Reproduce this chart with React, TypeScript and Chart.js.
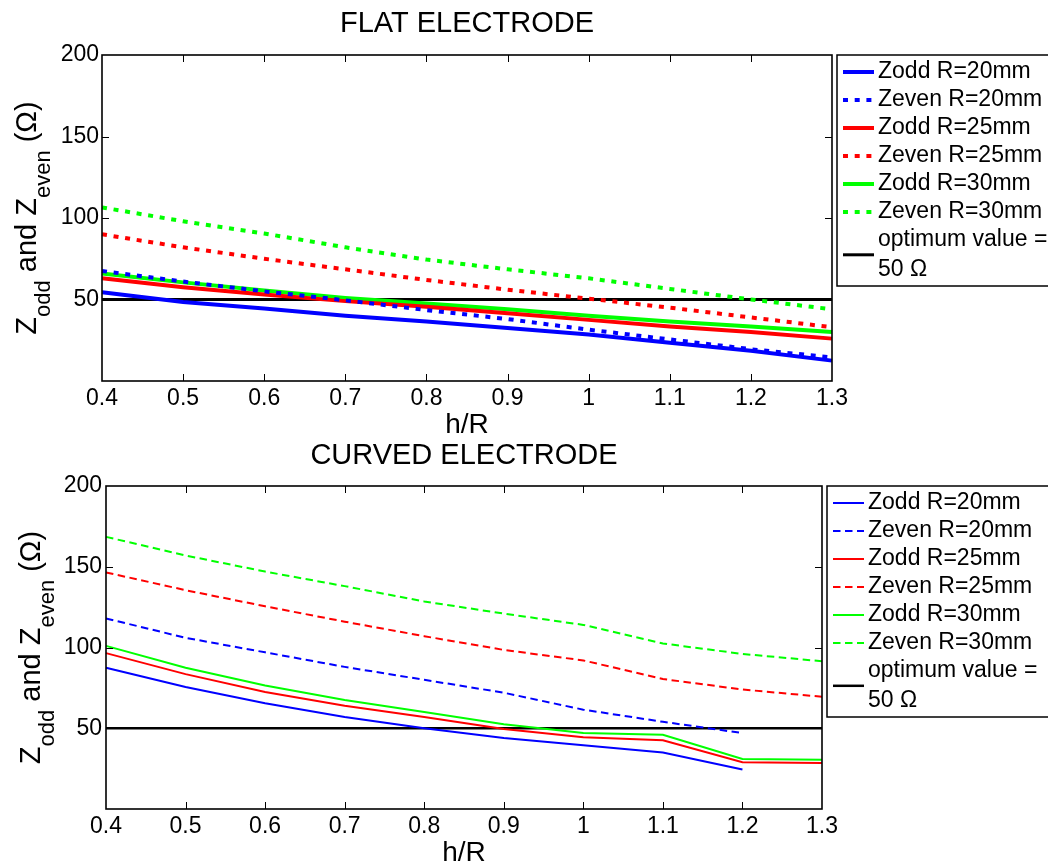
import React, { useEffect, useRef } from "react";
import { Chart, registerables } from "chart.js";

Chart.register(...registerables);

// ---------- data ----------
const hR = ["0.4", "0.5", "0.6", "0.7", "0.8", "0.9", "1", "1.1", "1.2", "1.3"];
const yTickStep = 50;
const yMin = 0;
const yMax = 200;
const optimumValue = 50;

// FLAT ELECTRODE
const flatZodd20 = [54.5, 48.5, 44.5, 40, 36.5, 32.5, 28.5, 23.5, 18.5, 12.5];
const flatZeven20 = [67.5, 61, 55, 49.5, 43.5, 38, 31.5, 25.5, 19.5, 14.5];
const flatZodd25 = [63, 57.5, 53, 49, 45.5, 41.5, 37.5, 33.5, 30, 26];
const flatZeven25 = [90, 82, 75, 68.5, 62, 56, 50.5, 45, 39, 33];
const flatZodd30 = [66, 60.5, 55.5, 51, 47.5, 44, 40, 36.5, 33.5, 30];
const flatZeven30 = [106.5, 98, 90.5, 82, 74.5, 68.5, 63, 56.5, 50, 44];

// CURVED ELECTRODE
const curvedZodd20 = [87.5, 75.5, 65.5, 57, 50, 44, 39.5, 35, 24.5, null];
const curvedZeven20 = [118, 106, 97, 88, 80, 72, 61.5, 54, 47, null];
const curvedZodd25 = [96.5, 83.5, 72.5, 64, 57, 49.5, 44.5, 42.5, 29, 28.5];
const curvedZeven25 = [146.5, 135.5, 125.5, 116, 107, 98.5, 92, 80.5, 74, 69.5];
const curvedZodd30 = [101, 87.5, 76.5, 67.5, 60, 52.5, 47, 46, 31, 30.5];
const curvedZeven30 = [168.5, 157, 147, 138, 128.5, 121, 114, 102.5, 96, 91.5];

const optimumLine = hR.map(() => optimumValue);

const seriesLabels = [
  "Zodd R=20mm",
  "Zeven R=20mm",
  "Zodd R=25mm",
  "Zeven R=25mm",
  "Zodd R=30mm",
  "Zeven R=30mm",
  "optimum value =\n50 Ω",
];
const seriesColors = ["#0000ff", "#0000ff", "#ff0000", "#ff0000", "#00ff00", "#00ff00", "#000000"];
const seriesDashed = [false, true, false, true, false, true, false];

const FONT = '"Liberation Sans", Arial, Helvetica, sans-serif';

// ---------- decoration plugin (box, inward ticks, titles, legend) ----------
const decorPlugin = {
  id: "matlabDecor",
  afterDraw(chart: any, _args: any, opts: any) {
    const ctx = chart.ctx as CanvasRenderingContext2D;
    const ca = chart.chartArea;
    const xs = chart.scales.x;
    const ys = chart.scales.y;
    ctx.save();

    // inward ticks
    ctx.strokeStyle = "#000";
    ctx.lineWidth = 1;
    const tl = 7;
    ctx.beginPath();
    xs.ticks.forEach((_t: any, i: number) => {
      if (i === 0 || i === xs.ticks.length - 1) return;
      const px = Math.round(xs.getPixelForTick(i)) + 0.5;
      ctx.moveTo(px, ca.bottom);
      ctx.lineTo(px, ca.bottom - tl);
      ctx.moveTo(px, ca.top);
      ctx.lineTo(px, ca.top + tl);
    });
    ys.ticks.forEach((t: any) => {
      if (t.value <= yMin || t.value >= yMax) return;
      const py = Math.round(ys.getPixelForValue(t.value)) + 0.5;
      ctx.moveTo(ca.left, py);
      ctx.lineTo(ca.left + tl, py);
      ctx.moveTo(ca.right, py);
      ctx.lineTo(ca.right - tl, py);
    });
    ctx.stroke();

    // axes box
    ctx.lineWidth = 1.6;
    ctx.strokeRect(ca.left, ca.top, ca.right - ca.left, ca.bottom - ca.top);

    // title
    ctx.fillStyle = "#000";
    ctx.textAlign = "center";
    ctx.textBaseline = "middle";
    ctx.font = `29px ${FONT}`;
    const cx = (ca.left + ca.right) / 2;
    ctx.fillText(opts.title, cx, opts.titleY);

    // x label
    ctx.textBaseline = "alphabetic";
    ctx.font = `28px ${FONT}`;
    ctx.fillText("h/R", cx, ca.bottom + 52);

    // y label with subscripts
    const main = 29;
    const sub = 22;
    const parts: [string, boolean][] = [
      ["Z", false],
      ["odd", true],
      [" and Z", false],
      ["even", true],
      [" (Ω)", false],
    ];
    let total = 0;
    parts.forEach(([s, isSub]) => {
      ctx.font = `${isSub ? sub : main}px ${FONT}`;
      total += ctx.measureText(s).width;
    });
    ctx.save();
    ctx.translate(ca.left - 66, (ca.top + ca.bottom) / 2);
    ctx.rotate(-Math.PI / 2);
    ctx.textAlign = "left";
    ctx.textBaseline = "alphabetic";
    let px = -total / 2;
    parts.forEach(([s, isSub]) => {
      ctx.font = `${isSub ? sub : main}px ${FONT}`;
      ctx.fillText(s, px, isSub ? 14 : 0);
      px += ctx.measureText(s).width;
    });
    ctx.restore();

    // legend
    const left = ca.right + 5;
    const top = ca.top;
    ctx.lineWidth = 1.5;
    ctx.strokeStyle = "#000";
    ctx.strokeRect(left, top, chart.width - left + 20, 231);
    ctx.font = `23px ${FONT}`;
    ctx.textAlign = "left";
    ctx.textBaseline = "middle";
    chart.data.datasets.forEach((ds: any, i: number) => {
      const lines = String(ds.label).split("\n");
      const rowY = top + 17 + i * 28;
      const lineY = lines.length > 1 ? rowY + 14.8 : rowY;
      ctx.save();
      ctx.strokeStyle = ds.borderColor;
      ctx.lineWidth = ds.borderWidth;
      ctx.setLineDash(ds.borderDash || []);
      ctx.lineCap = "butt";
      ctx.beginPath();
      ctx.moveTo(left + 6, lineY);
      ctx.lineTo(left + 37, lineY);
      ctx.stroke();
      ctx.restore();
      ctx.fillStyle = "#000";
      lines.forEach((ln, j) => {
        ctx.fillText(ln, left + 41, rowY + j * 29.5);
      });
    });

    ctx.restore();
  },
};

type PanelProps = {
  title: string;
  series: (number | null)[][];
  lineWidth: number;
  optimumWidth: number;
  dash: number[];
  canvasHeight: number;
  top: number;
  padTop: number;
  padRight: number;
  yWidth: number;
  xHeight: number;
  yPad: number;
  titleY: number;
};

function Panel(p: PanelProps) {
  const ref = useRef<HTMLCanvasElement | null>(null);
  useEffect(() => {
    if (!ref.current) return;
    const datasets = seriesLabels.map((label, i) => ({
      label,
      data: i < 6 ? p.series[i] : optimumLine,
      borderColor: seriesColors[i],
      backgroundColor: seriesColors[i],
      borderWidth: i < 6 ? p.lineWidth : p.optimumWidth,
      borderDash: seriesDashed[i] ? p.dash : [],
      borderCapStyle: "butt" as const,
      pointRadius: 0,
      tension: 0,
      spanGaps: false,
      fill: false,
    }));
    const chart = new Chart(ref.current, {
      type: "line",
      data: { labels: hR, datasets },
      options: {
        animation: false,
        responsive: false,
        layout: { padding: { top: p.padTop, right: p.padRight, left: 0, bottom: 0 } },
        plugins: {
          legend: { display: false },
          title: { display: false },
          tooltip: { enabled: false },
          matlabDecor: { title: p.title, titleY: p.titleY },
        } as any,
        scales: {
          x: {
            type: "category",
            offset: false,
            grid: { display: false, drawTicks: false },
            border: { display: false },
            ticks: {
              color: "#000",
              font: { family: FONT, size: 23 },
              padding: 4,
              maxRotation: 0,
              autoSkip: false,
            },
            afterFit: (s: any) => {
              s.height = p.xHeight;
            },
          },
          y: {
            min: yMin,
            max: yMax,
            grid: { display: false, drawTicks: false },
            border: { display: false },
            ticks: {
              stepSize: yTickStep,
              color: "#000",
              font: { family: FONT, size: 23 },
              padding: p.yPad,
              callback: (v: any) => (Number(v) === yMin ? "" : String(v)),
            },
            afterFit: (s: any) => {
              s.width = p.yWidth;
            },
          },
        },
      },
      plugins: [decorPlugin],
    });
    return () => chart.destroy();
  }, []);
  return (
    <canvas
      ref={ref}
      width={1048}
      height={p.canvasHeight}
      style={{ position: "absolute", left: 0, top: p.top, width: 1048, height: p.canvasHeight }}
    />
  );
}

export default function App() {
  return (
    <div
      style={{
        position: "absolute",
        left: 0,
        top: 0,
        width: 1048,
        height: 865,
        background: "#fff",
        overflow: "hidden",
      }}
    >
      <Panel
        title="FLAT ELECTRODE"
        series={[flatZodd20, flatZeven20, flatZodd25, flatZeven25, flatZodd30, flatZeven30]}
        lineWidth={4}
        optimumWidth={3}
        dash={[5, 6.7]}
        canvasHeight={438}
        top={0}
        padTop={55}
        padRight={216}
        yWidth={102}
        xHeight={57}
        yPad={3}
        titleY={23.5}
      />
      <Panel
        title="CURVED ELECTRODE"
        series={[curvedZodd20, curvedZeven20, curvedZodd25, curvedZeven25, curvedZodd30, curvedZeven30]}
        lineWidth={2}
        optimumWidth={2.5}
        dash={[7.5, 4.5]}
        canvasHeight={427}
        top={438}
        padTop={48}
        padRight={226}
        yWidth={106}
        xHeight={56}
        yPad={4}
        titleY={17.5}
      />
    </div>
  );
}
